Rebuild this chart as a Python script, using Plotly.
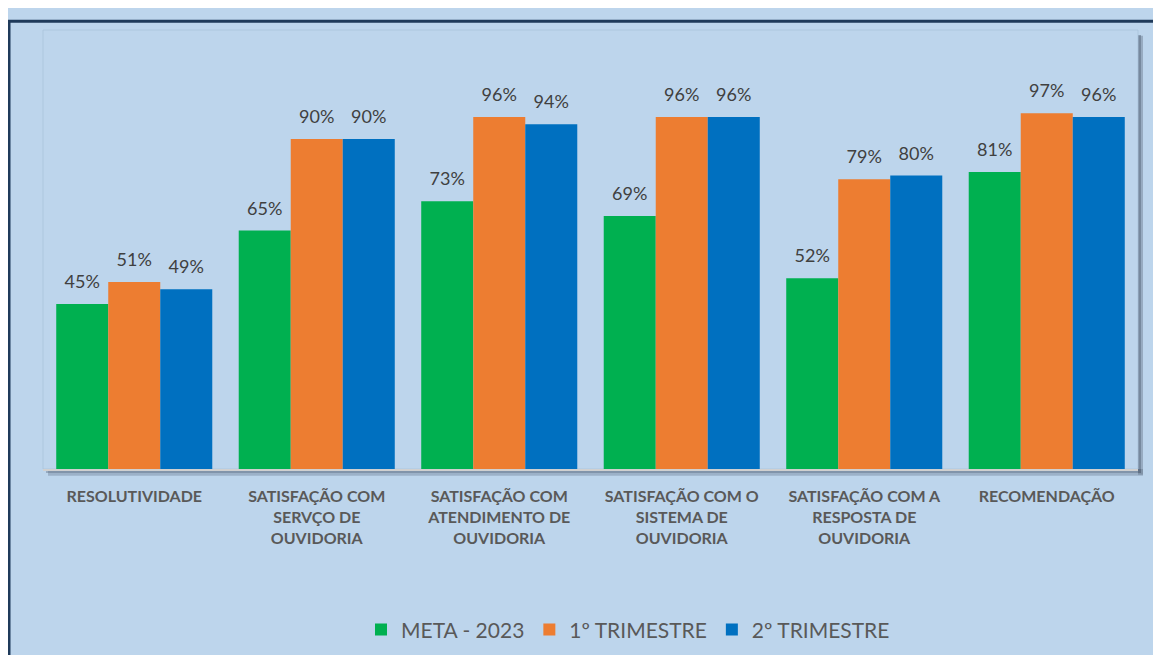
import plotly.graph_objects as go

categories = [
    "RESOLUTIVIDADE",
    "SATISFAÇÃO COM<br>SERVÇO DE<br>OUVIDORIA",
    "SATISFAÇÃO COM<br>ATENDIMENTO DE<br>OUVIDORIA",
    "SATISFAÇÃO COM O<br>SISTEMA DE<br>OUVIDORIA",
    "SATISFAÇÃO COM A<br>RESPOSTA DE<br>OUVIDORIA",
    "RECOMENDAÇÃO",
]
meta_2023 = [0.45, 0.65, 0.73, 0.69, 0.52, 0.81]
trimestre_1 = [0.51, 0.90, 0.96, 0.96, 0.79, 0.97]
trimestre_2 = [0.49, 0.90, 0.94, 0.96, 0.80, 0.96]
series_names = ["META - 2023", "1º TRIMESTRE", "2º TRIMESTRE"]
colors = ["#00B050", "#ED7D31", "#0070C0"]

# page has an 8px horizontal offset
XOFF = 8
W, H = 1161 - XOFF, 655
L, R, T, B = 43 - XOFF, 1138 - XOFF, 22, 472
pw, ph = R - L, B - T

def px(x):
    return (x - XOFF - L) / pw

def py(y):
    return (B - y) / ph

BG = "#BDD5EC"
FONT = "Lato, Open Sans, sans-serif"
# invisible tall spacers lift the value labels a little above the bars
SP = "<span style='font-size:60px'>\u00a0</span>"

fig = go.Figure()
for name, vals, c in zip(series_names, [meta_2023, trimestre_1, trimestre_2], colors):
    fig.add_trace(go.Bar(
        name=name, x=categories, y=vals, marker_color=c,
        marker_line=dict(width=0),
        text=[f"{round(v*100)}%" for v in vals],
        texttemplate=SP + "%{text}" + SP,
        textposition="outside", textangle=0, constraintext="none",
        textfont=dict(size=18, color="#404040", family=FONT),
        cliponaxis=False,
    ))

shapes = [
    # outer border
    dict(type="rect", xref="paper", yref="paper",
         x0=px(9), x1=px(1200), y0=py(700), y1=py(13),
         line=dict(color="#1F3A5A", width=3), fillcolor="rgba(0,0,0,0)", layer="below"),
    # shadow right
    dict(type="rect", xref="paper", yref="paper",
         x0=px(1138), x1=px(1143), y0=py(478), y1=py(28),
         line=dict(width=0), fillcolor="rgba(80,95,115,0.35)", layer="below"),
    dict(type="rect", xref="paper", yref="paper",
         x0=px(1138), x1=px(1141), y0=py(476), y1=py(27),
         line=dict(width=0), fillcolor="rgba(80,95,115,0.45)", layer="below"),
    # shadow bottom
    dict(type="rect", xref="paper", yref="paper",
         x0=px(48), x1=px(1143), y0=py(479), y1=py(472),
         line=dict(width=0), fillcolor="rgba(80,95,115,0.30)", layer="below"),
    dict(type="rect", xref="paper", yref="paper",
         x0=px(46), x1=px(1141), y0=py(476), y1=py(472),
         line=dict(width=0), fillcolor="rgba(80,95,115,0.35)", layer="below"),
    # faint plot border
    dict(type="rect", xref="paper", yref="paper",
         x0=0, x1=1, y0=0, y1=1,
         line=dict(color="rgba(170,195,220,0.8)", width=1), fillcolor="rgba(0,0,0,0)", layer="below"),
]

fig.update_layout(
    width=W, height=H,
    margin=dict(l=L, r=W - R, t=T, b=H - B),
    paper_bgcolor=BG, plot_bgcolor=BG,
    barmode="group", bargap=0.145, bargroupgap=0,
    shapes=shapes,
    showlegend=True,
    legend=dict(orientation="h", x=px(628), xanchor="center", y=py(637), yanchor="middle",
                font=dict(size=21, color="#595959", family=FONT),
                bgcolor="rgba(0,0,0,0)", itemwidth=30),
    xaxis=dict(showgrid=False, zeroline=False, showline=True, linecolor="#D0D0D0", linewidth=2,
               ticks="", ticklabelstandoff=12,
               tickfont=dict(size=16, color="#595959", family=FONT, weight="bold")),
    yaxis=dict(range=[0, 1.197], visible=False, showgrid=False, zeroline=False),
)

fig.write_html("out.html")
